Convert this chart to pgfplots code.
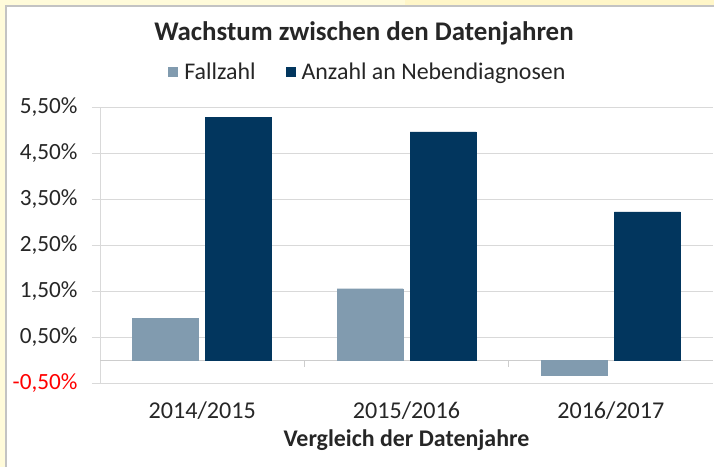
\documentclass[border=0pt]{standalone}
\usepackage{pgfplots}
\pgfplotsset{compat=1.18}
\usepackage{fontspec}
\setmainfont{Carlito}
\definecolor{fall}{RGB}{129,155,175}
\definecolor{neben}{RGB}{2,54,94}
\definecolor{gridc}{RGB}{217,217,217}
\definecolor{zeroc}{RGB}{205,205,205}
\definecolor{txt}{RGB}{38,38,38}
\definecolor{bgy}{RGB}{255,251,218}
\definecolor{bgy2}{RGB}{255,246,200}
\definecolor{bordc}{RGB}{195,195,195}
\begin{document}
\begin{tikzpicture}
\useasboundingbox (0bp,0bp) rectangle (714bp,467bp);
\fill[bgy] (0bp,0bp) rectangle (714bp,467bp);
\fill[bgy2] (405bp,461bp) rectangle (714bp,467bp);
\fill[white] (6bp,0bp) rectangle (714bp,461bp);
\draw[bordc, line width=1.2bp] (6bp,-2bp) -- (6bp,461bp) -- (716bp,461bp);
\node[font=\fontsize{27}{32}\selectfont\bfseries, text=txt] at (364bp,434bp) {Wachstum zwischen den Datenjahren};
\begin{axis}[
  at={(100bp,84bp)}, anchor=south west,
  scale only axis, width=613bp, height=276bp,
  xmin=-0.5, xmax=2.5, ymin=-0.5, ymax=5.5,
  ybar=7bp, bar width=66bp,
  axis lines*=left,
  x axis line style={draw=none},
  y axis line style={gridc, line width=1bp, -},
  xtick={0,1,2},
  xticklabels={2014/2015,2015/2016,2016/2017},
  x tick style={draw=none},
  ytick={-0.5,0.5,1.5,2.5,3.5,4.5,5.5},
  yticklabels={{\textcolor{red}{-0,50\%}},{0,50\%},{1,50\%},{2,50\%},{3,50\%},{4,50\%},{5,50\%}},
  y tick style={gridc, line width=1bp},
  tick align=outside, major tick length=8bp,
  ymajorgrids, grid style={gridc, line width=1bp},
  yticklabel style={font=\fontsize{23.3}{27}\selectfont, text=txt, xshift=-11bp},
  xticklabel style={font=\fontsize{24.2}{28}\selectfont, text=txt, yshift=-7bp},
  xlabel={Vergleich der Datenjahre},
  xlabel style={font=\fontsize{24}{28}\selectfont\bfseries, text=txt, yshift=-4bp},
  legend style={at={(0.437,1.127)}, anchor=center, draw=none, fill=none,
    legend columns=2, font=\fontsize{24}{28}\selectfont, text=txt,
    /tikz/every even column/.append style={column sep=28bp}},
  legend image code/.code={\path[#1, draw=none] (0bp,-5bp) rectangle (10bp,5bp); \path[draw=none, fill=none] (10bp,0bp) rectangle (14bp,0.1bp);},
]
\draw[zeroc, line width=1bp] (axis cs:-0.5,0) -- (axis cs:2.5,0);
\draw[zeroc, line width=1bp] (axis cs:0.5,0) -- ++(0bp,-7bp);
\draw[zeroc, line width=1bp] (axis cs:1.5,0) -- ++(0bp,-7bp);
\addplot[fill=fall, draw=fall] coordinates {(0,0.90) (1,1.55) (2,-0.33)};
\addplot[fill=neben, draw=neben] coordinates {(0,5.27) (1,4.96) (2,3.22)};
\legend{Fallzahl, Anzahl an Nebendiagnosen}
\end{axis}
\end{tikzpicture}
\end{document}
